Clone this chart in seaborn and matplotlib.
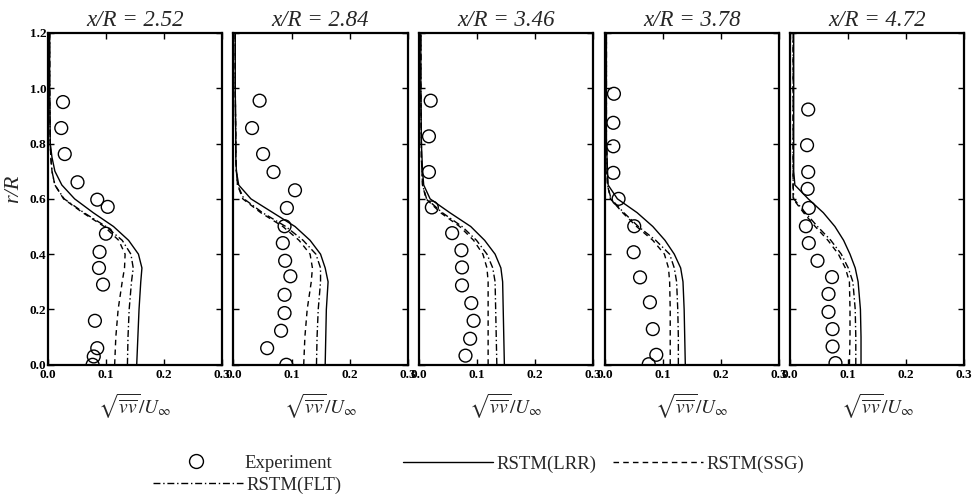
import matplotlib
matplotlib.use("Agg")
import matplotlib.pyplot as plt
from matplotlib.lines import Line2D
import seaborn as sns

# ---------------- data ----------------
stations = ["x/R = 2.52", "x/R = 2.84", "x/R = 3.46", "x/R = 3.78", "x/R = 4.72"]

x_ticks = [0.0, 0.1, 0.2, 0.3]
x_tick_labels = ["0.0", "0.1", "0.2", "0.3"]
y_ticks = [0.0, 0.2, 0.4, 0.6, 0.8, 1.0, 1.2]
y_tick_labels = ["0.0", "0.2", "0.4", "0.6", "0.8", "1.0", "1.2"]

# common r/R grid for the model curves
r_model = [0.0, 0.1, 0.2, 0.3, 0.35, 0.4, 0.45, 0.5, 0.55, 0.6, 0.65, 0.7, 0.75, 0.8, 1.0, 1.2]

# x/R = 2.52
lrr_252 = [0.153, 0.155, 0.157, 0.160, 0.162, 0.156, 0.139, 0.113, 0.078, 0.046, 0.024, 0.012, 0.007, 0.004, 0.003, 0.003]
ssg_252 = [0.115, 0.117, 0.121, 0.128, 0.132, 0.133, 0.122, 0.097, 0.060, 0.027, 0.012, 0.007, 0.005, 0.004, 0.003, 0.003]
flt_252 = [0.137, 0.138, 0.140, 0.144, 0.147, 0.143, 0.128, 0.100, 0.062, 0.028, 0.012, 0.007, 0.005, 0.004, 0.003, 0.003]
exp_x_252 = [0.026, 0.023, 0.029, 0.051, 0.085, 0.103, 0.100, 0.089, 0.088, 0.095, 0.081, 0.085, 0.079, 0.077]
exp_r_252 = [0.950, 0.856, 0.762, 0.660, 0.597, 0.571, 0.474, 0.408, 0.350, 0.290, 0.159, 0.060, 0.030, 0.000]

# x/R = 2.84
lrr_284 = [0.158, 0.159, 0.160, 0.163, 0.158, 0.150, 0.132, 0.106, 0.068, 0.030, 0.009, 0.005, 0.004, 0.004, 0.003, 0.003]
ssg_284 = [0.121, 0.123, 0.127, 0.134, 0.136, 0.132, 0.113, 0.085, 0.047, 0.016, 0.007, 0.005, 0.004, 0.004, 0.003, 0.003]
flt_284 = [0.143, 0.144, 0.146, 0.150, 0.150, 0.142, 0.120, 0.090, 0.050, 0.018, 0.007, 0.005, 0.004, 0.004, 0.003, 0.003]
exp_x_284 = [0.045, 0.032, 0.051, 0.069, 0.106, 0.092, 0.088, 0.085, 0.089, 0.098, 0.088, 0.088, 0.082, 0.058, 0.091]
exp_r_284 = [0.955, 0.856, 0.762, 0.697, 0.631, 0.567, 0.501, 0.440, 0.376, 0.320, 0.253, 0.187, 0.123, 0.060, 0.000]

# x/R = 3.46
lrr_346 = [0.147, 0.146, 0.145, 0.144, 0.141, 0.131, 0.113, 0.089, 0.053, 0.019, 0.008, 0.006, 0.005, 0.004, 0.003, 0.003]
ssg_346 = [0.119, 0.119, 0.119, 0.119, 0.117, 0.110, 0.094, 0.070, 0.037, 0.012, 0.006, 0.005, 0.004, 0.004, 0.003, 0.003]
flt_346 = [0.134, 0.133, 0.132, 0.131, 0.127, 0.117, 0.099, 0.074, 0.040, 0.013, 0.006, 0.005, 0.004, 0.004, 0.003, 0.003]
exp_x_346 = [0.020, 0.017, 0.017, 0.022, 0.057, 0.073, 0.074, 0.074, 0.090, 0.094, 0.088, 0.080]
exp_r_346 = [0.955, 0.826, 0.697, 0.569, 0.476, 0.414, 0.352, 0.287, 0.223, 0.159, 0.094, 0.033]

# x/R = 3.78
lrr_378 = [0.139, 0.138, 0.137, 0.135, 0.131, 0.120, 0.104, 0.083, 0.056, 0.022, 0.006, 0.005, 0.004, 0.003, 0.003, 0.003]
ssg_378 = [0.113, 0.113, 0.113, 0.112, 0.110, 0.103, 0.083, 0.055, 0.031, 0.010, 0.005, 0.004, 0.004, 0.003, 0.003, 0.003]
flt_378 = [0.127, 0.127, 0.126, 0.124, 0.120, 0.112, 0.088, 0.058, 0.033, 0.011, 0.005, 0.004, 0.004, 0.003, 0.003, 0.003]
exp_x_378 = [0.016, 0.015, 0.015, 0.015, 0.024, 0.051, 0.050, 0.061, 0.078, 0.083, 0.089, 0.076]
exp_r_378 = [0.980, 0.875, 0.790, 0.694, 0.600, 0.501, 0.407, 0.316, 0.226, 0.129, 0.036, 0.002]

# x/R = 4.72
lrr_472 = [0.122, 0.122, 0.121, 0.117, 0.112, 0.103, 0.092, 0.077, 0.057, 0.031, 0.008, 0.006, 0.006, 0.006, 0.006, 0.006]
ssg_472 = [0.102, 0.103, 0.103, 0.102, 0.095, 0.083, 0.065, 0.043, 0.023, 0.005, 0.005, 0.005, 0.005, 0.005, 0.005, 0.005]
flt_472 = [0.113, 0.113, 0.112, 0.108, 0.100, 0.088, 0.070, 0.047, 0.026, 0.006, 0.005, 0.005, 0.005, 0.005, 0.005, 0.005]
exp_x_472 = [0.031, 0.029, 0.031, 0.030, 0.032, 0.027, 0.032, 0.047, 0.072, 0.066, 0.066, 0.073, 0.073, 0.078]
exp_r_472 = [0.923, 0.794, 0.697, 0.636, 0.567, 0.501, 0.440, 0.376, 0.317, 0.256, 0.191, 0.129, 0.066, 0.006]

lrr_all = [lrr_252, lrr_284, lrr_346, lrr_378, lrr_472]
ssg_all = [ssg_252, ssg_284, ssg_346, ssg_378, ssg_472]
flt_all = [flt_252, flt_284, flt_346, flt_378, flt_472]
exp_x_all = [exp_x_252, exp_x_284, exp_x_346, exp_x_378, exp_x_472]
exp_r_all = [exp_r_252, exp_r_284, exp_r_346, exp_r_378, exp_r_472]

legend_labels = ["Experiment", "RSTM(LRR)", "RSTM(SSG)", "RSTM(FLT)"]

# ---------------- style ----------------
sns.set_theme(style="ticks")
plt.rcParams["font.family"] = ["Liberation Serif", "DejaVu Serif"]
plt.rcParams["mathtext.fontset"] = "stix"

SSG_LS = (0, (4, 3))
FLT_LS = (0, (5, 2, 1, 2))
LW = 1.0

fig = plt.figure(figsize=(9.78, 4.99), dpi=100)
axes = fig.subplots(1, 5, sharey=True)
fig.subplots_adjust(left=0.049, right=0.986, top=0.934, bottom=0.269, wspace=0.066)

for i, ax in enumerate(axes):
    sns.lineplot(x=lrr_all[i], y=r_model, orient="y", estimator=None, color="black",
                 linewidth=LW, ax=ax)
    sns.lineplot(x=ssg_all[i], y=r_model, orient="y", estimator=None, color="black",
                 linewidth=LW, linestyle=SSG_LS, ax=ax)
    sns.lineplot(x=flt_all[i], y=r_model, orient="y", estimator=None, color="black",
                 linewidth=LW, linestyle=FLT_LS, ax=ax)
    sns.scatterplot(x=exp_x_all[i], y=exp_r_all[i], marker="o", s=85,
                    facecolors="none", edgecolor="black", linewidth=1.0, ax=ax, zorder=3)

    ax.set_xlim(0, 0.3)
    ax.set_ylim(0, 1.2)
    ax.set_xticks(x_ticks)
    ax.set_xticklabels(x_tick_labels, fontsize=9.5, fontweight="bold")
    ax.set_yticks(y_ticks)
    ax.tick_params(axis="both", direction="in", length=4, width=1.0,
                   top=True, right=True, pad=3, colors="black")
    ax.tick_params(axis="y", pad=1)
    for sp in ax.spines.values():
        sp.set_linewidth(1.6)
        sp.set_color("black")
    ax.set_title(stations[i], fontsize=16.5, fontstyle="italic", pad=5)
    ax.set_xlabel(r"$\sqrt{\overline{vv}}/U_{\infty}$", fontsize=14, labelpad=8)
    ax.set_ylabel("")

axes[0].set_yticklabels(y_tick_labels, fontsize=9.5, fontweight="bold")
axes[0].set_ylabel("r/R", fontsize=16, fontstyle="italic")
axes[0].yaxis.set_label_coords(-0.14, 0.53)

# ---------------- legend ----------------
h_exp = Line2D([], [], color="black", marker="o", markersize=10, markerfacecolor="none",
               linestyle="none", markeredgewidth=1.0)
h_lrr = Line2D([], [], color="black", linewidth=LW)
h_ssg = Line2D([], [], color="black", linewidth=LW, linestyle=SSG_LS)
h_flt = Line2D([], [], color="black", linewidth=LW, linestyle=FLT_LS)

W, H = 978.0, 499.0
entries = [(h_exp, legend_labels[0], 151, 463),
           (h_lrr, legend_labels[1], 403, 464),
           (h_ssg, legend_labels[2], 613, 464),
           (h_flt, legend_labels[3], 153, 485)]
for h, lab, px, py in entries:
    fig.legend(handles=[h], labels=[lab], loc="center left",
               bbox_to_anchor=(px / W, 1 - py / H), frameon=False,
               fontsize=13.5, handlelength=4.8, handletextpad=0.2,
               borderpad=0, borderaxespad=0)

fig.savefig("out.png", dpi=100)
